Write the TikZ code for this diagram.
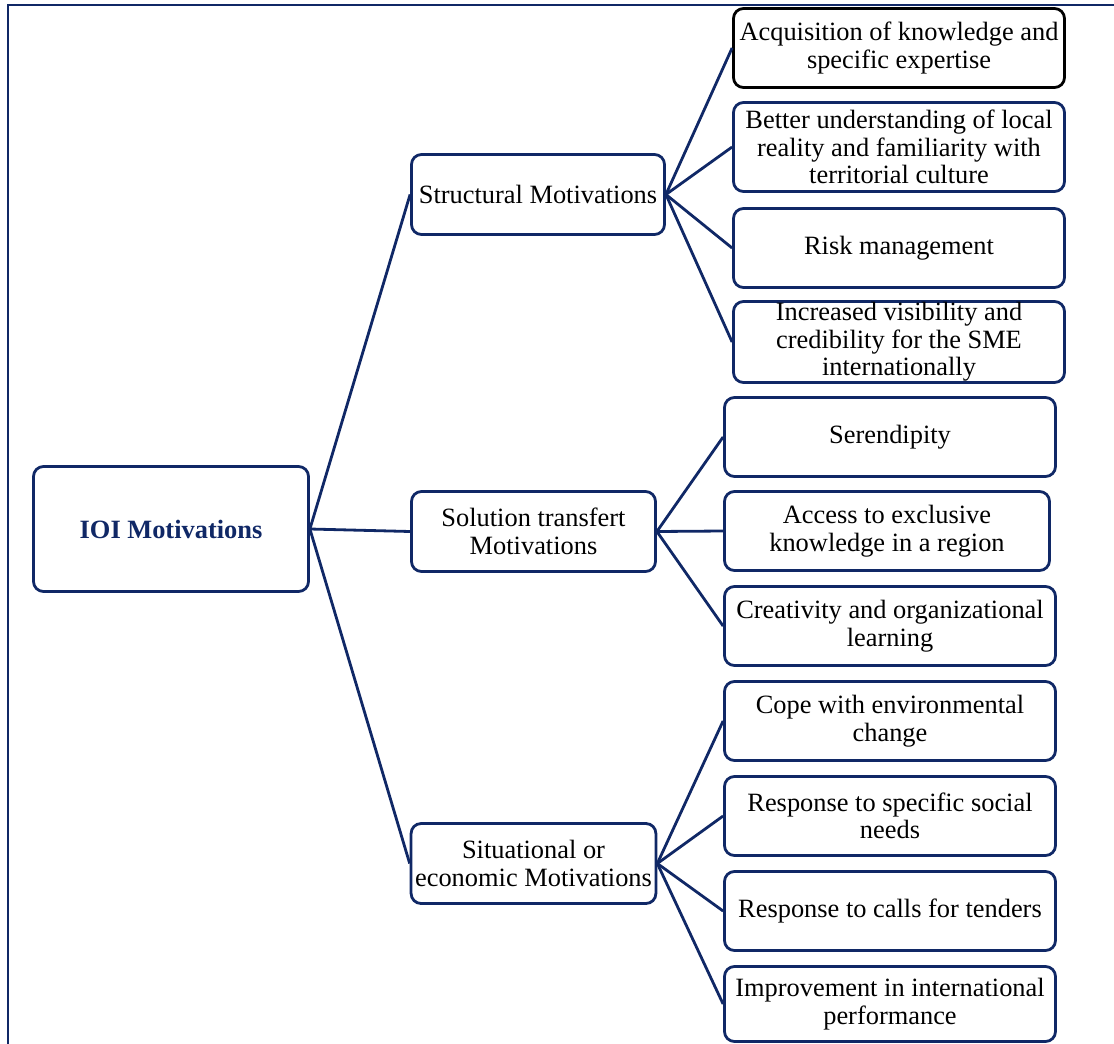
\documentclass[tikz,border=0pt]{standalone}
\usepackage{fontspec}
\setmainfont{Liberation Serif}
\usetikzlibrary{positioning}
\definecolor{navy}{RGB}{16,40,102}

\begin{document}
\begin{tikzpicture}[x=1pt,y=-1pt,
        box/.style={draw=navy, line width=2.8pt, rounded corners=10pt, align=center,
            font=\fontsize{26.4}{27.5}\selectfont, inner xsep=4pt, inner ysep=1pt},
        leaf/.style={box, minimum width=331pt, minimum height=79pt},
        branch/.style={box, minimum height=80pt},
        link/.style={navy, line width=2.8pt}]
        \useasboundingbox (0,0) rectangle (1114,1044);
        \draw[navy, line width=1.8pt] (8,1044) -- (8,5) -- (1114,5);

        \node[box, font=\fontsize{26.4}{27.5}\selectfont\bfseries, text=navy,
            minimum width=275pt, minimum height=125pt] (ioi) at (171,529) {IOI Motivations};
        \node[branch, minimum width=253pt] (struct) at (538,194.5) {Structural Motivations};
        \node[branch, minimum width=244pt] (solution) at (533.5,531.5) {Solution transfert\\Motivations};
        \node[branch, minimum width=244pt] (situ) at (533.5,863.5) {Situational or\\economic Motivations};

        \node[leaf, draw=black] (knowledge) at (899,48) {Acquisition of knowledge and\\specific expertise};
        \node[leaf, minimum height=89pt] (local) at (899,147) {Better understanding of local\\reality and familiarity with\\territorial culture};
        \node[leaf] (risk) at (899,248) {Risk management};
        \node[leaf] (visibility) at (899,342) {Increased visibility and\\credibility for the SME\\internationally};

        \node[leaf] (serendipity) at (890,437) {Serendipity};
        \node[leaf, minimum width=325pt] (exclusive) at (887,531) {Access to exclusive\\knowledge in a region};
        \node[leaf] (creativity) at (890,626) {Creativity and organizational\\learning};

        \node[leaf] (cope) at (890,721) {Cope with environmental\\change};
        \node[leaf] (social) at (890,816) {Response to specific social\\needs};
        \node[leaf] (tenders) at (890,911) {Response to calls for tenders};
        \node[leaf, minimum height=75pt] (performance) at (890,1004) {Improvement in international\\performance};

        \path[link]
            (ioi.east) edge (struct.west)
                edge (solution.west)
                edge (situ.west)
            (struct.east) edge (knowledge.west)
                edge (local.west)
                edge (risk.west)
                edge (visibility.west)
            (solution.east) edge (serendipity.west)
                edge (exclusive.west)
                edge (creativity.west)
            (situ.east) edge (cope.west)
                edge (social.west)
                edge (tenders.west)
                edge (performance.west);
\end{tikzpicture}
\end{document}
